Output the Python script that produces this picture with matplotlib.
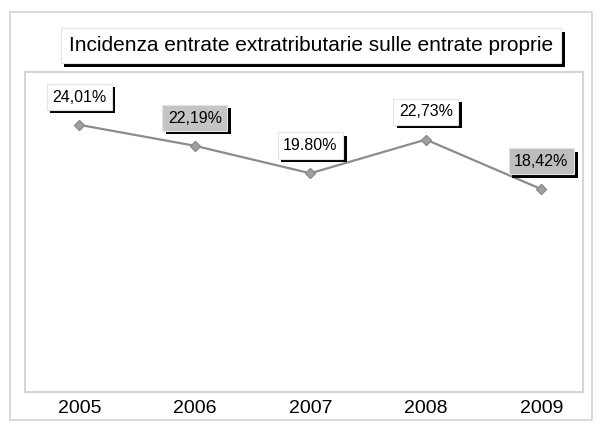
import matplotlib.pyplot as plt
import matplotlib.patheffects as pe
from matplotlib.patches import Rectangle

# Chart data
years = ["2005", "2006", "2007", "2008", "2009"]
incidenza = [24.01, 22.19, 19.80, 22.73, 18.42]
value_labels = ["24,01%", "22,19%", "19.80%", "22,73%", "18,42%"]
label_fills = ["white", "#c4c4c4", "white", "white", "#bdbdbd"]
title = "Incidenza entrate extratributarie sulle entrate proprie"

plt.rcParams['font.family'] = ['Liberation Sans', 'DejaVu Sans']

fig = plt.figure(figsize=(6.04, 4.29), dpi=100)
fig.patch.set_facecolor('white')

# outer chart frame
fig.add_artist(Rectangle((10 / 604, 1 - 420 / 429), 582 / 604, 408 / 429,
                         transform=fig.transFigure, fill=False,
                         edgecolor='#d4d4d4', linewidth=1.2))

ax = fig.add_axes([25 / 604, 37 / 429, 558 / 604, 320 / 429])
x = list(range(len(years)))
ax.plot(x, incidenza, color='#8c8c8c', linewidth=1.6, marker='D',
        markersize=5, markerfacecolor='#a0a0a0', markeredgecolor='#8c8c8c')

ax.set_xlim(-0.47, 4.36)
ax.set_ylim(0.8, 28.6)
ax.set_yticks([])
ax.set_xticks(x)
ax.set_xticklabels(years, fontsize=14)
ax.tick_params(axis='x', length=0, pad=6)
for spine in ax.spines.values():
    spine.set_color('#d6d6d6')
    spine.set_linewidth(1.5)

shadow = [pe.withSimplePatchShadow(offset=(2.4, -2.4), shadow_rgbFace='black', alpha=1.0)]

# value labels above each point
for xi, yi, lab, fc in zip(x, incidenza, value_labels, label_fills):
    t = ax.annotate(lab, (xi, yi), xytext=(0, 20), textcoords='offset points',
                    ha='center', va='center', fontsize=11.5,
                    bbox=dict(boxstyle='square,pad=0.35', facecolor=fc,
                              edgecolor='#e4e4e4', linewidth=0.8))
    t.get_bbox_patch().set_path_effects(shadow)

# boxed title
tt = fig.text(311 / 604, 1 - 45.5 / 429, title, ha='center', va='center',
              fontsize=15,
              bbox=dict(boxstyle='square,pad=0.4', facecolor='white',
                        edgecolor='#e4e4e4', linewidth=0.8))
tt.get_bbox_patch().set_path_effects(
    [pe.withSimplePatchShadow(offset=(2.8, -2.8), shadow_rgbFace='black', alpha=1.0)])

fig.savefig('out.png', dpi=100)
